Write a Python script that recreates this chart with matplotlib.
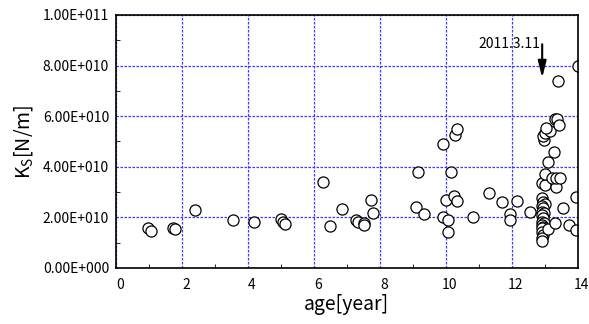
import numpy as np
import matplotlib
matplotlib.use("Agg")
import matplotlib.pyplot as plt
import matplotlib.transforms as mtransforms
from matplotlib.ticker import FuncFormatter, MultipleLocator

plt.rcParams["font.family"] = ["Noto Sans CJK JP", "DejaVu Sans"]

# age [year] and Ks [x 1e10 N/m]
age = [
    0.98, 1.06, 1.72, 1.79, 2.38, 3.54, 4.18, 5.00, 5.07, 5.12,
    6.26, 6.48, 6.84, 7.27, 7.34, 7.52, 7.52, 7.72, 7.78,
    9.08, 9.14, 9.34, 9.90, 9.92, 9.99, 10.07, 10.07, 10.17, 10.24,
    10.28, 10.35, 10.35, 10.82, 11.31, 11.69, 11.94, 11.94, 12.17, 12.55,
    12.92, 12.95, 13.00, 12.92, 12.95, 12.90, 12.98, 12.92, 12.95, 12.92,
    12.98, 12.92, 12.95, 12.90, 12.92, 12.95, 12.92, 12.90,
    13.10, 13.30, 13.55, 13.72, 13.95, 13.95,
    12.92, 13.02, 13.35, 13.00, 13.23, 13.35, 13.45,
    13.10, 13.28, 12.98, 12.95, 13.00, 13.15, 13.05, 13.30, 13.37, 13.42,
    13.41, 14.00,
]
ks = [
    1.57, 1.47, 1.57, 1.55, 2.29, 1.88, 1.83, 1.92, 1.83, 1.73,
    3.41, 1.64, 2.33, 1.90, 1.83, 1.77, 1.70, 2.69, 2.19,
    2.40, 3.78, 2.15, 2.03, 4.90, 2.67, 1.90, 1.41, 3.80, 2.86,
    5.26, 5.48, 2.63, 2.03, 2.98, 2.62, 2.13, 1.90, 2.66, 2.22,
    2.75, 2.62, 2.53, 2.45, 2.36, 2.23, 2.16, 2.09, 1.96, 1.83,
    1.79, 1.70, 1.61, 1.57, 1.43, 1.30, 1.17, 1.06,
    1.53, 1.79, 2.37, 1.69, 1.50, 2.82,
    3.36, 3.28, 3.20, 3.72, 3.55, 3.55, 3.54,
    4.20, 4.57, 5.06, 5.22, 5.35, 5.43, 5.52, 5.90, 5.90, 5.65,
    7.40, 8.00,
]
ks = np.array(ks) * 1e10

event_label = "2011.3.11"
event_age = 12.92
arrow_from, arrow_to = 8.95e10, 7.4e10


def excel_sci(v, pos):
    if v == 0:
        return "0.00E+000"
    e = int(np.floor(np.log10(abs(v))))
    return f"{v / 10**e:.2f}E+{e:03d}"


fig = plt.figure(figsize=(5.89, 3.24), dpi=100)
ax = fig.add_axes([0.197, 0.173, 0.784, 0.781])

ax.plot(age, ks, linestyle="None", marker="o", markersize=8,
        markerfacecolor="white", markeredgecolor="black", markeredgewidth=0.9)

ax.set_xlim(0, 14)
ax.set_ylim(0, 1e11)
ax.xaxis.set_major_locator(MultipleLocator(2))
ax.xaxis.set_minor_locator(MultipleLocator(1))
ax.yaxis.set_major_locator(MultipleLocator(2e10))
ax.yaxis.set_minor_locator(MultipleLocator(1e10))
ax.yaxis.set_major_formatter(FuncFormatter(excel_sci))
ax.tick_params(which="both", direction="in", labelsize=10, length=0)
ax.tick_params(which="minor", length=3)
ax.tick_params(axis="x", pad=7)
ax.tick_params(axis="y", pad=5)

# tick labels sit slightly to the right of the grid lines
offset = mtransforms.ScaledTranslation(4 / 100, 0, fig.dpi_scale_trans)
for lbl in ax.get_xticklabels():
    lbl.set_transform(lbl.get_transform() + offset)

ax.grid(True, which="major", color="#3a3aff", linestyle=(0, (2, 1.2)), linewidth=0.9)
for s in ax.spines.values():
    s.set_linewidth(1.2)

ax.annotate("", xy=(event_age, arrow_to), xytext=(event_age, arrow_from),
            arrowprops=dict(arrowstyle="-|>,head_length=1.0,head_width=0.25",
                            color="black", lw=1.5))
ax.text(event_age - 0.05, 8.84e10, event_label, ha="right", va="center", fontsize=10)

ax.set_xlabel("age[year]", fontsize=14, labelpad=2)
ax.set_ylabel(r"K$_\mathregular{S}$[N/m]", fontsize=14, labelpad=6)

fig.savefig("out.png", dpi=100)
